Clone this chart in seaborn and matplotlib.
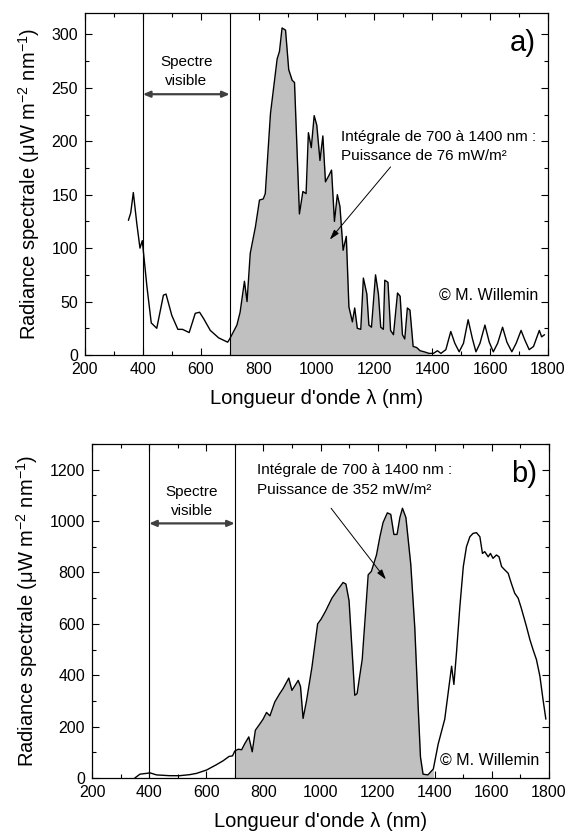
import numpy as np
import pandas as pd
import matplotlib
matplotlib.use("Agg")
import matplotlib.pyplot as plt
from matplotlib.ticker import MultipleLocator
import seaborn as sns

# -----------------------------------------------------------------------------
# Data (wavelength in nm, radiance in uW m^-2 nm^-1)
# -----------------------------------------------------------------------------
wl_a = [350, 358, 367, 379, 390, 398, 414, 429, 448, 471, 480, 500, 521, 537,
        560, 581, 596, 610, 633, 662, 693, 700, 725, 736, 751, 760, 771, 789,
        803, 816, 823, 841, 864, 872, 881, 893, 904, 916, 924, 941, 953, 964,
        972, 982, 992, 1001, 1012, 1022, 1031, 1043, 1052, 1062, 1072, 1081,
        1092, 1103, 1112, 1124, 1132, 1141, 1153, 1162, 1174, 1181, 1190, 1204,
        1214, 1222, 1231, 1236, 1247, 1256, 1266, 1280, 1289, 1297, 1305, 1314,
        1323, 1334, 1346, 1358, 1372, 1389, 1404, 1418, 1430, 1447, 1464, 1478,
        1493, 1508, 1524, 1539, 1551, 1565, 1582, 1597, 1611, 1626, 1643, 1658,
        1675, 1690, 1707, 1720, 1735, 1750, 1770, 1778, 1788]
rad_a = [126, 133, 152, 123, 100, 107, 64, 30, 25, 56, 57, 37, 24, 24,
         21, 39, 40, 34, 23, 16, 12, 15, 28, 40, 69, 50, 95, 120,
         145, 146, 151, 226, 277, 284, 306, 304, 267, 257, 255, 132, 153, 151,
         208, 194, 224, 215, 182, 205, 162, 168, 173, 125, 150, 139,
         98, 111, 45, 31, 44, 25, 24, 72, 57, 28, 26, 75,
         57, 26, 24, 70, 68, 23, 19, 58, 55, 19, 15, 44,
         42, 8, 7, 4, 3, 1.5, 1.5, 4, 1.5, 5, 22, 11,
         3, 11, 33, 15, 3, 11, 28, 12, 3, 11, 26, 12,
         3, 11, 23, 14, 5, 8, 23, 17, 19]

wl_b = [350, 368, 391, 403, 426, 472, 507, 542, 566, 601, 636, 659, 680, 692,
        700, 712, 724, 735, 749, 761, 772, 788, 799, 811, 823, 840, 857, 869,
        889, 900, 922, 930, 939, 951, 970, 990, 1002, 1018, 1040, 1062, 1079,
        1089, 1100, 1120, 1128, 1146, 1167, 1178, 1196, 1208, 1219, 1234, 1246,
        1257, 1268, 1278, 1287, 1299, 1316, 1330, 1342, 1350, 1359, 1376, 1395,
        1412, 1435, 1447, 1459, 1467, 1476, 1488, 1500, 1511, 1523, 1534, 1546,
        1558, 1567, 1575, 1587, 1595, 1604, 1616, 1625, 1634, 1645, 1657, 1668,
        1680, 1692, 1703, 1721, 1733, 1744, 1756, 1768, 1779, 1789]
rad_b = [0, 15, 18, 20, 12, 9, 9, 13, 18, 31, 52, 67, 84, 86,
         105, 112, 110, 134, 160, 102, 186, 211, 229, 255, 242, 296, 328, 348,
         389, 341, 380, 356, 232, 300, 431, 600, 618, 650, 700, 735, 761,
         755, 690, 322, 328, 461, 791, 804, 868, 939, 994, 1032, 1026,
         948, 948, 1014, 1050, 1014, 832, 587, 276, 82, 15, 12, 35,
         132, 229, 332, 435, 364, 486, 668, 823, 900, 939, 952, 955,
         939, 874, 881, 861, 874, 855, 868, 861, 823, 810, 797, 758,
         719, 700, 661, 590, 539, 500, 461, 397, 306, 229]

panels = [
    dict(wl=wl_a, rad=rad_a, ymax=320, ymaj=50, ymin=25, tag="a)",
         power="Intégrale de 700 à 1400 nm :\nPuissance de 76 mW/m²",
         text_xy=(1083, 195), arrow_from=(1256, 176), arrow_to=(1046, 108),
         vis_text_y=265.5, vis_arrow_y=244, tag_y=292, copy_y=56),
    dict(wl=wl_b, rad=rad_b, ymax=1300, ymaj=200, ymin=100, tag="b)",
         power="Intégrale de 700 à 1400 nm :\nPuissance de 352 mW/m²",
         text_xy=(776, 1159), arrow_from=(1037, 1050), arrow_to=(1229, 773),
         vis_text_y=1078, vis_arrow_y=991, tag_y=1184, copy_y=67),
]

sns.set_theme(style="ticks")
plt.rcParams['font.family'] = ['Liberation Sans', 'DejaVu Sans']
plt.rcParams['mathtext.fontset'] = 'custom'
plt.rcParams['mathtext.rm'] = 'Liberation Sans'
plt.rcParams['mathtext.it'] = 'Liberation Sans:italic'
plt.rcParams['text.color'] = 'black'
plt.rcParams['axes.labelcolor'] = 'black'

fig = plt.figure(figsize=(5.68, 8.32), dpi=100)
rects = [[85 / 568, 1 - 355 / 832, 463 / 568, 342 / 832],
         [92 / 568, 1 - 778 / 832, 457 / 568, 334 / 832]]

for rect, p in zip(rects, panels):
    ax = fig.add_axes(rect)
    df = pd.DataFrame({"wl": p["wl"], "rad": p["rad"]})

    # shaded integral 700-1400 nm
    sel = df[(df.wl >= 700) & (df.wl <= 1400)]
    ax.fill_between(sel.wl, 0, sel.rad, color="#c0c0c0", lw=0, zorder=1)
    sns.lineplot(data=df, x="wl", y="rad", ax=ax, color="black", lw=1.0,
                 sort=False, estimator=None, zorder=3)

    ax.axvline(400, color="black", lw=0.8, zorder=2)
    ax.axvline(700, color="black", lw=0.8, zorder=2)

    ax.set_xlim(200, 1800)
    ax.set_ylim(0, p["ymax"])
    ax.xaxis.set_major_locator(MultipleLocator(200))
    ax.xaxis.set_minor_locator(MultipleLocator(100))
    ax.yaxis.set_major_locator(MultipleLocator(p["ymaj"]))
    ax.yaxis.set_minor_locator(MultipleLocator(p["ymin"]))
    ax.tick_params(which="both", direction="in", top=True, right=True,
                   width=0.8, color="black", labelsize=11.5, pad=5,
                   labelcolor="black")
    ax.tick_params(which="major", length=5)
    ax.tick_params(which="minor", length=3)
    for s in ax.spines.values():
        s.set_color("black")
        s.set_linewidth(0.9)

    ax.set_xlabel("Longueur d'onde λ (nm)", fontsize=14.5, labelpad=9)
    ax.set_ylabel("Radiance spectrale (μW m$^{-2}$ nm$^{-1}$)", fontsize=14.5,
                  labelpad=7)

    # visible spectrum marker
    ax.text(550, p["vis_text_y"], "Spectre\nvisible", ha="center", va="center",
            fontsize=11, linespacing=1.45)
    ax.annotate("", xy=(400, p["vis_arrow_y"]), xytext=(700, p["vis_arrow_y"]),
                arrowprops=dict(arrowstyle="<|-|>,head_length=0.35,head_width=0.15",
                                color="#404040", lw=1.6, shrinkA=0, shrinkB=0))

    # integral annotation
    ax.text(p["text_xy"][0], p["text_xy"][1], p["power"], ha="left", va="center",
            fontsize=11, linespacing=1.5)
    ax.annotate("", xy=p["arrow_to"], xytext=p["arrow_from"],
                arrowprops=dict(arrowstyle="-|>,head_length=0.5,head_width=0.15",
                                color="black", lw=0.7, shrinkA=0, shrinkB=0))

    ax.text(1758, p["tag_y"], p["tag"], ha="right", va="center", fontsize=21)
    ax.text(1765, p["copy_y"], "© M. Willemin", ha="right", va="center",
            fontsize=11.5)

fig.savefig("out.png", dpi=100)
